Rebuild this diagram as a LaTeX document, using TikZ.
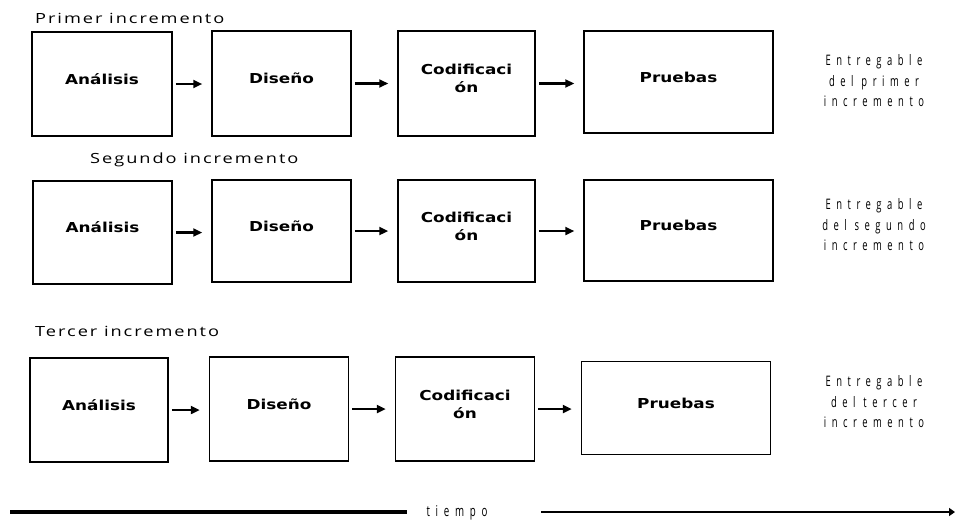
\documentclass[tikz,border=0pt]{standalone}
\usepackage{fontspec}
\setmainfont{DejaVu Sans}
\newfontfamily\stagefont[FakeStretch=1.23]{DejaVu Sans}
\newfontfamily\headfont[FakeStretch=1.3,LetterSpace=14]{Open Sans}
\newfontfamily\notefont[FakeStretch=0.65,LetterSpace=38]{Open Sans}
\usetikzlibrary{arrows.meta}

\tikzset{
  stage/.style={draw, line width=1.5pt, inner sep=0pt},
  stagetext/.style={align=center, inner sep=0pt, yshift=5pt,
    font=\stagefont\bfseries\fontsize{13.7}{18}\selectfont},
  flow/.style={line width=2.5pt, -{Triangle[length=9pt,width=8pt]},
    shorten <=3pt, shorten >=9pt},
  heading/.style={anchor=base west, inner sep=0pt,
    font=\headfont\fontsize{14}{16}\selectfont},
  deliver/.style={align=center, inner sep=0pt,
    font=\notefont\fontsize{14.5}{20.5}\selectfont},
}

\begin{document}
\begin{tikzpicture}[x=1pt,y=-1pt]
\useasboundingbox (0,0) rectangle (955,519);

% ---- first increment ----
\node[heading] (h1) at (35,24) {Primer incremento};
\node[stage, minimum width=140pt, minimum height=104pt,
  label={[stagetext]center:Análisis}] (a1) at (102,84) {};
\node[stage, minimum width=139pt, minimum height=105pt,
  label={[stagetext]center:Diseño}] (b1) at (281.5,83.5) {};
\node[stage, minimum width=137pt, minimum height=105pt,
  label={[stagetext]center:Codificaci\\ón}] (c1) at (466.5,83.5) {};
\node[stage, minimum width=189pt, minimum height=102pt,
  label={[stagetext]center:Pruebas}] (d1) at (678.5,82) {};
\node[deliver] (e1) at (874,81) {Entregable\\del primer\\incremento};
\draw[flow] (a1.east) -- (a1.east -| b1.west);
\draw[flow] (b1.east) -- (b1.east -| c1.west);
\draw[flow] (c1.east) -- (c1.east -| d1.west);

% ---- second increment ----
\node[heading] (h2) at (90,163) {Segundo incremento};
\node[stage, minimum width=139pt, minimum height=103pt,
  label={[stagetext]center:Análisis}] (a2) at (102.5,232.5) {};
\node[stage, minimum width=139pt, minimum height=102pt,
  label={[stagetext]center:Diseño}] (b2) at (281.5,231) {};
\node[stage, minimum width=137pt, minimum height=102pt,
  label={[stagetext]center:Codificaci\\ón}] (c2) at (466.5,231) {};
\node[stage, minimum width=189pt, minimum height=101pt,
  label={[stagetext]center:Pruebas}] (d2) at (678.5,230.5) {};
\node[deliver] (e2) at (874,225) {Entregable\\del segundo\\incremento};
\draw[flow] (a2.east) -- (a2.east -| b2.west);
\draw[flow] (b2.east) -- (b2.east -| c2.west);
\draw[flow] (c2.east) -- (c2.east -| d2.west);

% ---- third increment ----
\node[heading] (h3) at (35,336) {Tercer incremento};
\node[stage, minimum width=138pt, minimum height=104pt,
  label={[stagetext]center:Análisis}] (a3) at (99,410) {};
\node[stage, minimum width=139pt, minimum height=104pt,
  label={[stagetext]center:Diseño}] (b3) at (279,409) {};
\node[stage, minimum width=139pt, minimum height=104pt,
  label={[stagetext]center:Codificaci\\ón}] (c3) at (465,409) {};
\node[stage, minimum width=189pt, minimum height=93pt,
  label={[stagetext]center:Pruebas}] (d3) at (676,408) {};
\node[deliver] (e3) at (874,402) {Entregable\\del tercer\\incremento};
\draw[flow] (a3.east) -- (a3.east -| b3.west);
\draw[flow] (b3.east) -- (b3.east -| c3.west);
\draw[flow] (c3.east) -- (c3.east -| d3.west);

% ---- time axis ----
\node[font=\notefont\fontsize{15}{16}\selectfont, inner sep=0pt] (t) at (457,513) {tiempo};
\coordinate (tstart) at (10,512);
\coordinate (tleft) at (407,512);
\coordinate (tright) at (541,512);
\coordinate (tend) at (955,512);
\draw[line width=4pt] (tstart) -- (tleft);
\draw[line width=2.5pt, -{Triangle[length=6pt,width=8pt]}] (tright) -- (tend);
\end{tikzpicture}
\end{document}
